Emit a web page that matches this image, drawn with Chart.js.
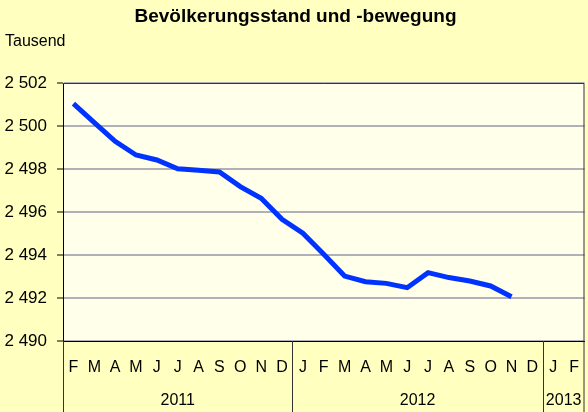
<!DOCTYPE html>
<html>
<head>
<meta charset="utf-8">
<script src="https://cdn.jsdelivr.net/npm/chart.js@4/dist/chart.umd.min.js"></script>
<style>
    html, body { margin: 0; padding: 0; background: #FFFFC0; }
    #wrap { width: 588px; height: 412px; }
</style>
</head>
<body>
<div id="wrap"><canvas id="diagram" width="588" height="412"></canvas></div>
<script>
// months shown on the category axis (Feb 2011 .. Feb 2013)
const months = ['F','M','A','M','J','J','A','S','O','N','D',
                'J','F','M','A','M','J','J','A','S','O','N','D',
                'J','F'];
const years = ['2011', '2012', '2013'];
const yearSpans = [11, 12, 2];

// population in thousand
const population = [2501.04, 2500.16, 2499.29, 2498.65, 2498.42, 2498.01, 2497.94, 2497.86, 2497.18, 2496.64, 2495.66,
                    2495.01, 2494.03, 2493.02, 2492.76, 2492.68, 2492.48, 2493.18, 2492.95, 2492.79, 2492.56, 2492.06, null,
                    null, null];

const yTicks = [2490, 2492, 2494, 2496, 2498, 2500, 2502];

window.onload = init;

function init() {
    createChart();
}

function formatThousand(v) {
    return String(v).replace(/\B(?=(\d{3})+(?!\d))/g, ' ');
}

const plotBackground = {
    id: 'plotBackground',
    beforeDraw(chart) {
        const { ctx, chartArea: a } = chart;
        ctx.save();
        ctx.fillStyle = '#FFFFEA';
        ctx.fillRect(a.left, a.top, a.right - a.left, a.bottom - a.top);
        ctx.restore();
    },
    afterDraw(chart) {
        const { ctx, chartArea: a } = chart;
        const x = chart.scales.x;
        ctx.save();
        // frame top / right
        ctx.strokeStyle = '#333';
        ctx.lineWidth = 1;
        ctx.beginPath();
        ctx.moveTo(a.left, a.top + 0.5);
        ctx.lineTo(a.right - 0.5, a.top + 0.5);
        ctx.lineTo(a.right - 0.5, chart.height);
        ctx.stroke();

        // year groups
        const step = x.width / months.length;
        let start = 0;
        ctx.font = '16px "Liberation Sans", Arial, sans-serif';
        ctx.fillStyle = '#000';
        ctx.textAlign = 'center';
        ctx.textBaseline = 'middle';
        years.forEach((year, i) => {
            const left = x.getPixelForValue(start) - step / 2;
            const right = x.getPixelForValue(start + yearSpans[i] - 1) + step / 2;
            ctx.beginPath();
            ctx.moveTo(Math.round(left) + 0.5, a.bottom);
            ctx.lineTo(Math.round(left) + 0.5, chart.height);
            ctx.stroke();
            ctx.fillText(year, (left + right) / 2, 401);
            start += yearSpans[i];
        });
        ctx.restore();
    }
};

function createChart() {
    const ctx = document.getElementById('diagram').getContext('2d');

    new Chart(ctx, {
        type: 'line',
        data: {
            labels: months,
            datasets: [
                {
                    label: 'Bevölkerung',
                    data: population,
                    borderColor: '#0033FF',
                    borderWidth: 5,
                    pointRadius: 0,
                    tension: 0,
                    spanGaps: false
                }
            ]
        },
        options: {
            responsive: false,
            animation: false,
            layout: {
                padding: { left: 5, right: 2, top: 0, bottom: 0 }
            },
            plugins: {
                legend: { display: false },
                tooltip: { enabled: false },
                title: {
                    display: true,
                    text: 'Bevölkerungsstand und -bewegung',
                    color: '#000',
                    font: { family: '"Liberation Sans", Arial, sans-serif', size: 19, weight: 'bold' },
                    padding: { top: 5, bottom: 4 }
                },
                subtitle: {
                    display: true,
                    text: 'Tausend',
                    align: 'start',
                    color: '#000',
                    font: { family: '"Liberation Sans", Arial, sans-serif', size: 16 },
                    padding: { top: 0, bottom: 32 }
                }
            },
            scales: {
                x: {
                    offset: true,
                    grid: { display: false },
                    border: { color: '#000', width: 1 },
                    ticks: {
                        autoSkip: false,
                        maxRotation: 0,
                        padding: 9,
                        color: '#000',
                        font: { family: '"Liberation Sans", Arial, sans-serif', size: 16 }
                    },
                    afterFit(scale) { scale.height = 71; }
                },
                y: {
                    min: 2490,
                    max: 2502,
                    afterBuildTicks(scale) {
                        scale.ticks = yTicks.map(v => ({ value: v }));
                    },
                    grid: {
                        color: '#B0B0B8',
                        lineWidth: 2,
                        borderDash: [1, 1],
                        tickColor: '#000',
                        tickWidth: 1,
                        tickBorderDash: [],
                        tickLength: 6
                    },
                    border: { color: '#000', width: 1 },
                    ticks: {
                        padding: 10,
                        color: '#000',
                        font: { family: '"Liberation Sans", Arial, sans-serif', size: 17 },
                        callback: v => formatThousand(v)
                    },
                    afterFit(scale) { scale.width = 58; }
                }
            }
        },
        plugins: [plotBackground]
    });
}
</script>
</body>
</html>
